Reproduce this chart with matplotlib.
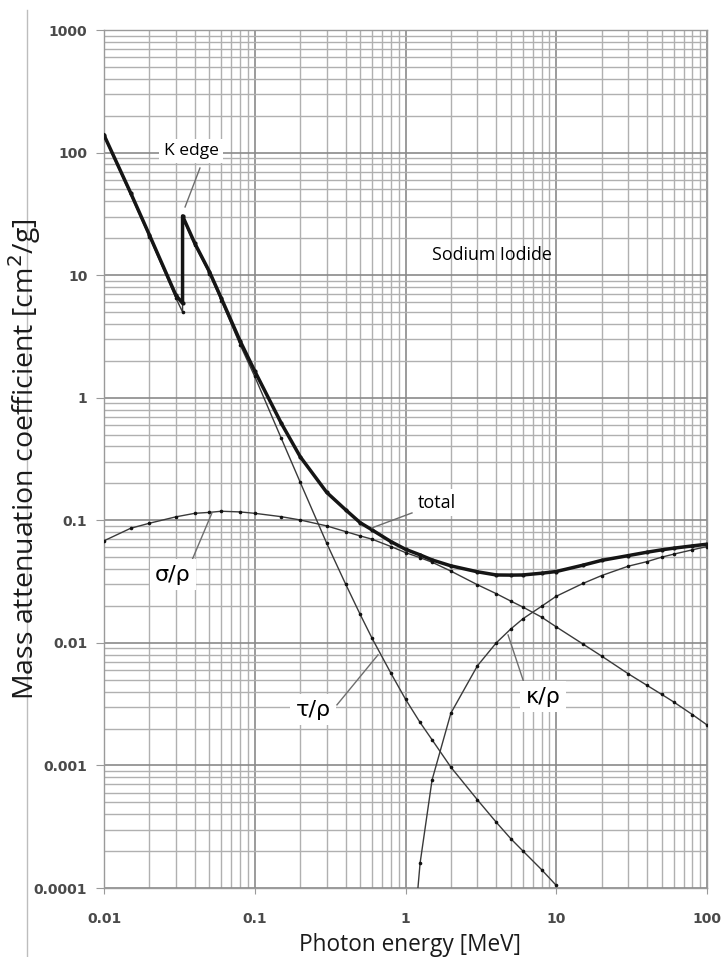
import matplotlib
matplotlib.use("Agg")
import matplotlib.pyplot as plt
from matplotlib.lines import Line2D
from matplotlib.ticker import LogLocator, FixedLocator, NullFormatter

# ---------------- data ----------------
energy_total = [0.01, 0.015, 0.02, 0.03, 0.0332, 0.0332, 0.04, 0.05, 0.06, 0.08, 0.1, 0.15, 0.2,
                0.3, 0.4, 0.5, 0.6, 0.8, 1, 1.25, 1.5, 2, 3, 4, 5, 6, 8, 10, 15, 20, 30, 40,
                50, 60, 80, 100]
total = [139, 47.1, 21.3, 6.85, 5.9, 30.4, 18.2, 10.7, 6.48, 2.9, 1.65, 0.619, 0.331,
         0.169, 0.122, 0.0957, 0.0835, 0.067, 0.058, 0.0522, 0.0475, 0.0425, 0.038, 0.0358,
         0.0357, 0.0358, 0.037, 0.0382, 0.043, 0.0471, 0.0515, 0.0549, 0.0574, 0.0592,
         0.0618, 0.0638]

energy_tau = [0.01, 0.015, 0.02, 0.03, 0.0332, 0.0332, 0.04, 0.05, 0.06, 0.08, 0.1, 0.15, 0.2,
              0.3, 0.4, 0.5, 0.6, 0.8, 1, 1.25, 1.5, 2, 3, 4, 5, 6, 8, 10]
tau = [136, 45.5, 20.6, 6.5, 5.0, 29.6, 17.6, 10.3, 6.2, 2.7, 1.49, 0.466, 0.205,
       0.065, 0.0303, 0.0171, 0.0109, 0.00566, 0.00347, 0.00224, 0.00162, 0.000968,
       0.000524, 0.000344, 0.000252, 0.000201, 0.000141, 0.000105]

energy_sigma = [0.01, 0.015, 0.02, 0.03, 0.04, 0.05, 0.06, 0.08, 0.1, 0.15, 0.2, 0.3, 0.4,
                0.5, 0.6, 0.8, 1, 1.25, 1.5, 2, 3, 4, 5, 6, 8, 10, 15, 20, 30, 40, 50, 60,
                80, 100]
sigma = [0.068, 0.086, 0.0946, 0.1067, 0.114, 0.116, 0.1185, 0.117, 0.114, 0.107, 0.1006,
         0.090, 0.0809, 0.0746, 0.0701, 0.0611, 0.0545, 0.0495, 0.0455, 0.0385, 0.0298,
         0.0252, 0.0219, 0.0196, 0.0162, 0.0135, 0.0098, 0.0078, 0.0056, 0.0045, 0.0038,
         0.0033, 0.0026, 0.00214]

energy_kappa = [1.2, 1.25, 1.5, 2, 3, 4, 5, 6, 8, 10, 15, 20, 30, 40, 50, 60, 80, 100]
kappa = [0.00009, 0.00016, 0.00076, 0.00267, 0.0065, 0.0100, 0.0130, 0.0157, 0.0199,
         0.0240, 0.0305, 0.0354, 0.0422, 0.046, 0.050, 0.0529, 0.0574, 0.0611]

x_ticks = [0.01, 0.1, 1, 10, 100]
x_tick_labels = ["0.01", "0.1", "1", "10", "100"]
y_ticks = [0.0001, 0.001, 0.01, 0.1, 1, 10, 100, 1000]
y_tick_labels = ["0.0001", "0.001", "0.01", "0.1", "1", "10", "100", "1000"]

# ---------------- figure ----------------
W, H = 726, 957
fig = plt.figure(figsize=(W / 100, H / 100), dpi=100)
ax = fig.add_axes([104 / W, 1 - 888 / H, 603 / W, 858 / H])
ax.set_xscale("log")
ax.set_yscale("log")
ax.set_xlim(0.01, 100)
ax.set_ylim(0.0001, 1000)

# grid
ax.xaxis.set_minor_locator(LogLocator(base=10, subs=range(2, 10), numticks=20))
ax.yaxis.set_minor_locator(LogLocator(base=10, subs=range(2, 10), numticks=20))
ax.xaxis.set_minor_formatter(NullFormatter())
ax.yaxis.set_minor_formatter(NullFormatter())
ax.grid(True, which="major", color="#8a8a8a", lw=1.2, zorder=0)
ax.grid(True, which="minor", color="#b0b0b0", lw=1.0, zorder=0)
ax.set_axisbelow(True)
for s in ax.spines.values():
    s.set_color("#9a9a9a")
    s.set_linewidth(1.0)

ax.xaxis.set_major_locator(FixedLocator(x_ticks))
ax.yaxis.set_major_locator(FixedLocator(y_ticks))
ax.set_xticklabels(x_tick_labels)
ax.set_yticklabels(y_tick_labels)
ax.tick_params(which="minor", length=0)
ax.tick_params(axis="y", which="major", length=6, color="#9a9a9a", pad=6)
ax.tick_params(axis="x", which="major", length=4, color="#9a9a9a", pad=13)
for lab in ax.get_xticklabels() + ax.get_yticklabels():
    lab.set_fontfamily("DejaVu Sans")
    lab.set_fontweight("bold")
    lab.set_fontsize(10)
    lab.set_color("#4a4a4a")

# curves
thin = dict(color="#3a3a3a", lw=1.0, marker="o", markersize=2.6,
            markerfacecolor="#111111", markeredgewidth=0, zorder=3)
ax.plot(energy_sigma, sigma, **thin)
ax.plot(energy_tau, tau, **thin)
ax.plot(energy_kappa, kappa, **thin)
ax.plot(energy_total, total, color="#151515", lw=2.5, marker="o", markersize=3,
        markeredgewidth=0, zorder=4)

# annotations
box = dict(boxstyle="square,pad=0.25", fc="white", ec="none")
lead = dict(color="#6e6e6e", lw=1.0, zorder=5)

def leader(p1, p2):
    ax.plot([p1[0], p2[0]], [p1[1], p2[1]], **lead)

ax.text(0.0378, 103, "K edge", fontsize=12.5, family="Open Sans", ha="center",
        va="center", bbox=box, zorder=6)
leader((0.0433, 74.8), (0.0345, 36))

ax.text(3.75, 14.6, "Sodium Iodide", fontsize=12.8, family="Open Sans", ha="center",
        va="center", zorder=6)

ax.text(1.62, 0.1387, "total", fontsize=13, family="Open Sans", ha="center",
        va="center", bbox=box, zorder=6)
leader((1.104, 0.1148), (0.5995, 0.0867))

greek = dict(fontsize=16, family="DejaVu Sans", ha="center", va="center",
             bbox=box, zorder=6)
ax.text(0.0287, 0.0359, "σ/ρ", **greek)
leader((0.0384, 0.0475), (0.052, 0.1148))

ax.text(0.2434, 0.00284, "τ/ρ", **greek)
leader((0.351, 0.00312), (0.657, 0.00798))

ax.text(8.17, 0.00363, "κ/ρ", **greek)
leader((6.11, 0.00472), (4.79, 0.0116))

# axis titles
fig.text(410 / W, 1 - 945 / H, "Photon energy [MeV]", fontsize=16.3, family="Open Sans",
         ha="center", va="center", color="#1a1a1a")
fig.text(25 / W, 1 - 459 / H, "Mass attenuation coefficient [cm$^2$/g]", fontsize=20.5,
         family="Open Sans", ha="center", va="center", rotation=90, color="#1a1a1a")

# page border line at left
fig.add_artist(Line2D([27 / W, 27 / W], [0, 1 - 10 / H], transform=fig.transFigure,
                      color="#bdbdbd", lw=1.0))

fig.savefig("out.png", dpi=100)
